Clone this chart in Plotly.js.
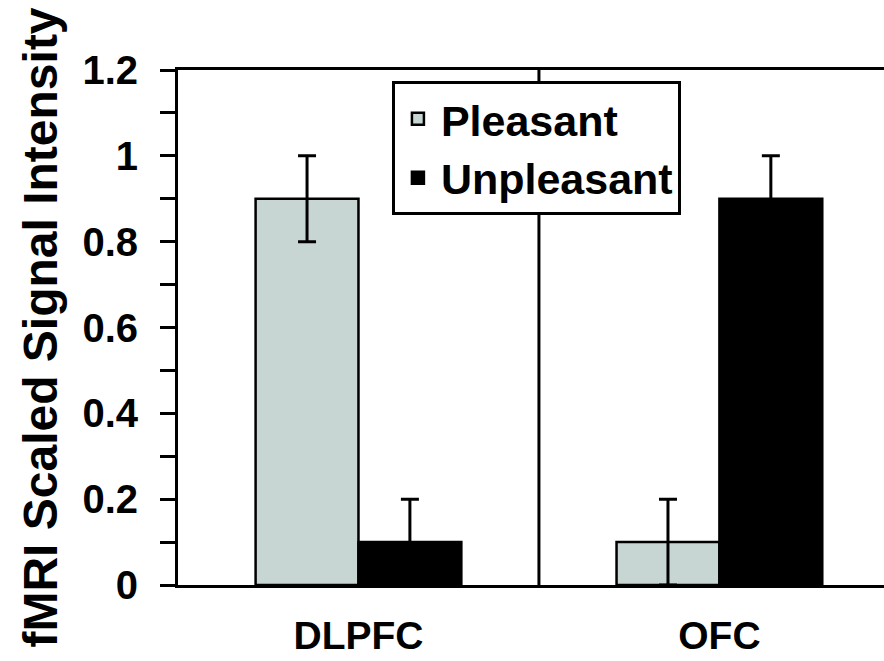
<!DOCTYPE html>
<html>
<head>
<meta charset="utf-8">
<script src="https://cdn.plot.ly/plotly-3.0.1.min.js"></script>
<style>html,body{margin:0;padding:0;background:#fff;}#chart{width:884px;height:661px;}</style>
</head>
<body>
<div id="chart"></div>
<script>
var categories = ["DLPFC", "OFC"];
var pleasantValues = [0.9, 0.1];
var pleasantErrors = [0.1, 0.1];
var unpleasantValues = [0.1, 0.9];
var unpleasantErrors = [0.1, 0.1];
var yTickValues = [0, 0.1, 0.2, 0.3, 0.4, 0.5, 0.6, 0.7, 0.8, 0.9, 1.0, 1.1, 1.2];
var yTickLabels = ["0", "", "0.2", "", "0.4", "", "0.6", "", "0.8", "", "1", "", "1.2"];

var FONT = "Liberation Sans, Arial, sans-serif";

var traces = [
  {
    type: "bar", name: "Pleasant", x: categories, y: pleasantValues,
    marker: {color: "#c7d5d3", line: {color: "#000", width: 2.5}},
    error_y: {type: "data", array: pleasantErrors, visible: true, color: "#000", thickness: 3, width: 9}
  },
  {
    type: "bar", name: "Unpleasant", x: categories, y: unpleasantValues,
    marker: {color: "#000", line: {color: "#000", width: 2.5}},
    error_y: {type: "data", array: unpleasantErrors, visible: true, color: "#000", thickness: 3, width: 9}
  }
];

var layout = {
  width: 884, height: 661,
  margin: {l: 178, r: 0, t: 70, b: 76},
  paper_bgcolor: "#fff", plot_bgcolor: "#fff",
  barmode: "group", bargap: 0.43, bargroupgap: 0,
  font: {family: FONT, color: "#000", weight: "bold"},
  showlegend: true,
  legend: {
    x: 0.303, y: 0.978, xanchor: "left", yanchor: "top",
    bgcolor: "#fff", bordercolor: "#000", borderwidth: 3,
    font: {family: FONT, size: 43, color: "#000", weight: "bold"},
    itemwidth: 36,
    tracegroupgap: 0
  },
  xaxis: {
    type: "category", range: [-0.5, 1.456],
    showline: true, linecolor: "#000", linewidth: 3, mirror: true,
    showgrid: false, zeroline: false, ticks: "",
    tickfont: {family: FONT, size: 39, color: "#000", weight: "bold"},
    ticklabelstandoff: 14
  },
  yaxis: {
    range: [0, 1.2], tickmode: "array", tickvals: yTickValues, ticktext: yTickLabels,
    showline: true, linecolor: "#000", linewidth: 3,
    showgrid: false, zeroline: false,
    ticks: "outside", ticklen: 15, tickwidth: 3, tickcolor: "#000",
    tickfont: {family: FONT, size: 40, color: "#000", weight: "bold"},
    ticklabelstandoff: 14,
    automargin: true,
    title: {text: "fMRI Scaled Signal Intensity", standoff: 10, font: {family: FONT, size: 48, color: "#000", weight: "bold"}}
  },
  shapes: [
    {type: "line", xref: "x", yref: "paper", x0: 0.5, x1: 0.5, y0: 0, y1: 1, line: {color: "#000", width: 3}}
  ]
};

Plotly.newPlot("chart", traces, layout, {staticPlot: true, displayModeBar: false});
</script>
</body>
</html>
